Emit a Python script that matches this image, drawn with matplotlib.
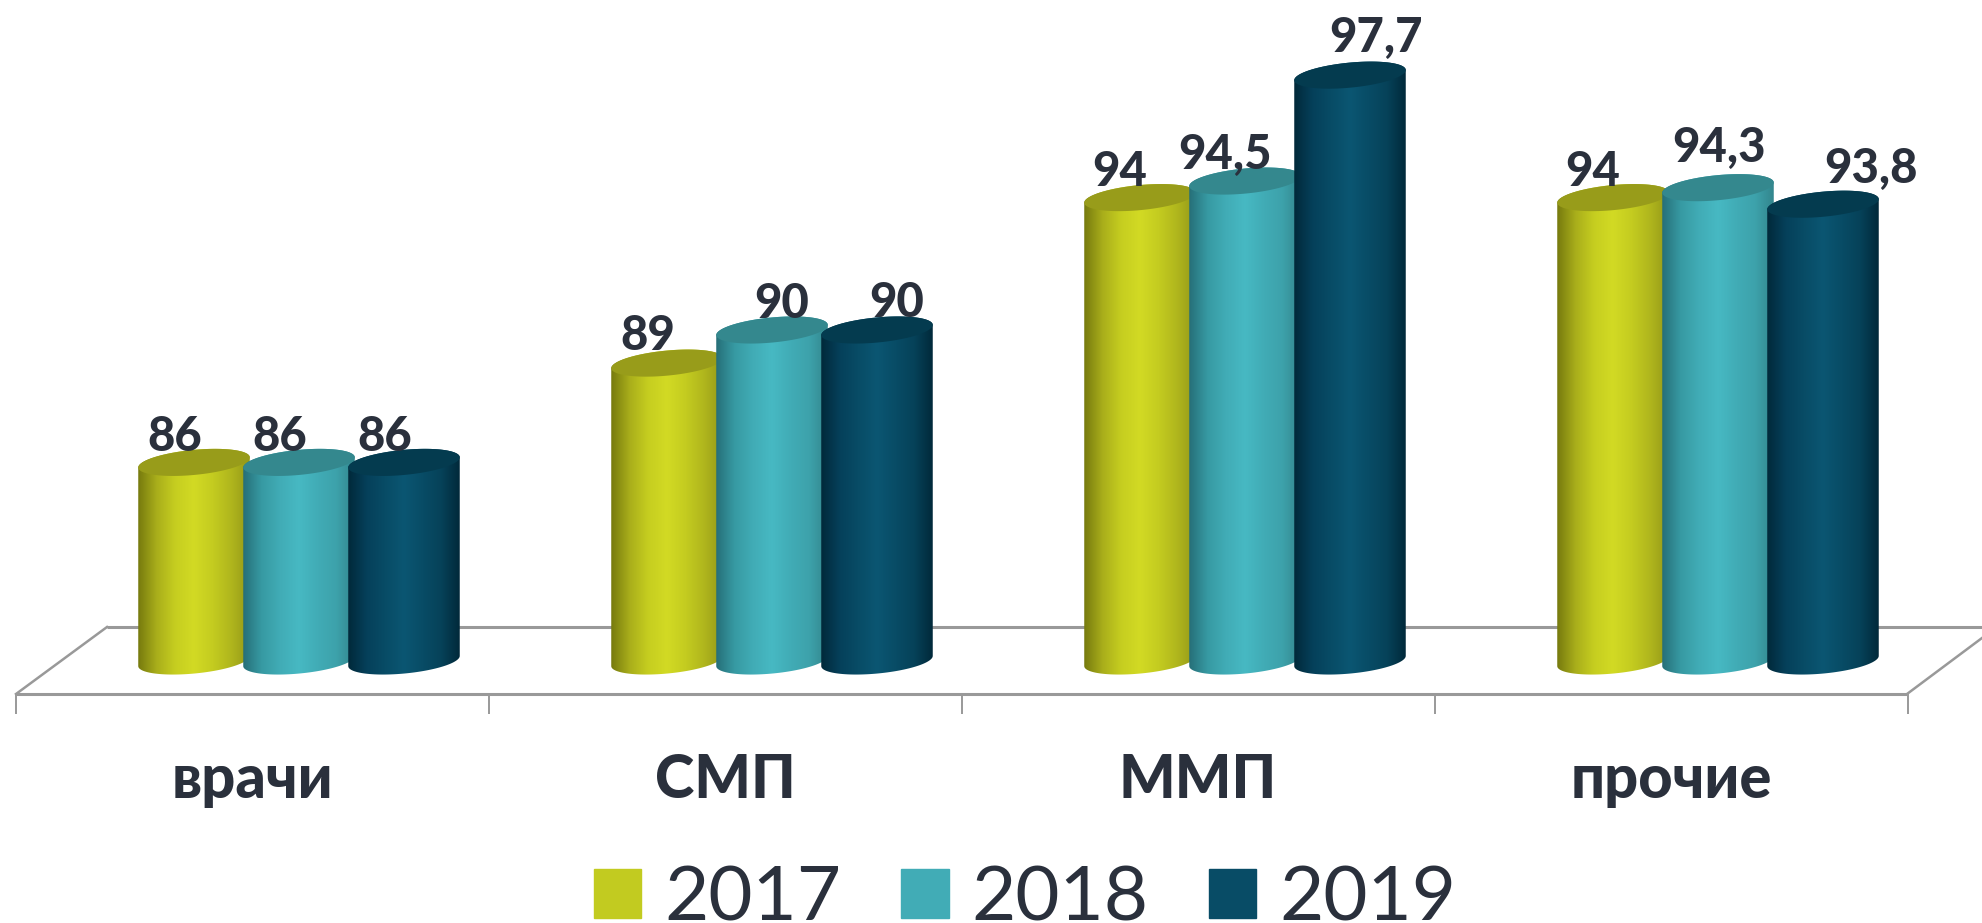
import matplotlib
matplotlib.use('Agg')
import matplotlib.pyplot as plt
import numpy as np
from matplotlib import font_manager as fm
from matplotlib.colors import LinearSegmentedColormap
from matplotlib.patches import Patch, Polygon

categories = ['врачи', 'СМП', 'ММП', 'прочие']
years = ['2017', '2018', '2019']
values_2017 = [86, 89, 94, 94]
values_2018 = [86, 90, 94.5, 94.3]
values_2019 = [86, 90, 97.7, 93.8]
series = [values_2017, values_2018, values_2019]

legend_colors = ['#C2CB20', '#41ACB6', '#084C66']
cap_colors = ['#989C1A', '#34888E', '#043B4F']
shades = [
    ['#767A0E', '#A9AE1B', '#C6CE20', '#D2DA24', '#C4CC20', '#B0B61D', '#949818'],
    ['#266F78', '#379AA3', '#41ACB6', '#47B9C3', '#41ACB6', '#3DA2AB', '#33868D'],
    ['#01293A', '#05405A', '#084C66', '#0B5672', '#084C66', '#064259', '#01293A'],
]
# label shift from the bar centre, pixels (x, y above the bar top)
label_dx = [[-19, -19, -19], [-19, 10, 20], [-20, -20, 26], [-20, 1, 48]]
label_dy = [[11, 11, 11], [13, 12, 13], [12, 12, 23], [12, 26, 21]]

W, H = 1982, 923
CAT_PX = 473.0      # pixels per category
VAL_PX = 33.1       # pixels per value unit
X0_PX = 252.0       # category 0 centre
BASE_PX = 661.0     # y pixel of the bar base
BASE_VAL = 80.0
BAR_W = 105.0
BAR_SHIFT = 47.0
CAP_A, CAP_B, CAP_TILT = 56.0, 12.5, np.radians(5.5)

available = {f.name for f in fm.fontManager.ttflist}
font = ['Lato', 'Noto Sans', 'DejaVu Sans'] if 'Lato' in available else ['Noto Sans', 'DejaVu Sans']
plt.rcParams['font.family'] = font
TEXT = '#2A303C'
GREY = '#999999'


def xpx(p):
    return (p - X0_PX) / CAT_PX


def ypx(p):
    return BASE_VAL + (BASE_PX - p) / VAL_PX


def arc(cx, cy, t):
    # tilted ellipse in pixels, y pointing up on the picture
    ex = CAP_A * np.cos(t) * np.cos(CAP_TILT) - CAP_B * np.sin(t) * np.sin(CAP_TILT)
    ey = CAP_A * np.cos(t) * np.sin(CAP_TILT) + CAP_B * np.sin(t) * np.cos(CAP_TILT)
    return cx + ex / CAT_PX, cy + ey / VAL_PX


fig = plt.figure(figsize=(W / 100, H / 100), dpi=100)
ax = fig.add_axes([0, 0, 1, 1])
ax.axis('off')

# floor of the 3d box
ax.plot([xpx(16), xpx(1907)], [ypx(694), ypx(694)], color=GREY, lw=2.2, solid_capstyle='butt')
ax.plot([xpx(107), xpx(1982)], [ypx(627), ypx(627)], color=GREY, lw=2.2, solid_capstyle='butt')
ax.plot([xpx(16), xpx(107)], [ypx(694), ypx(627)], color=GREY, lw=1.8)
ax.plot([xpx(1907), xpx(1982)], [ypx(694), ypx(638)], color=GREY, lw=1.8)
edges = np.arange(len(categories) + 1) - 0.5
ax.vlines(edges, ypx(714), ypx(694), color=GREY, lw=1.4)

t0 = np.arctan2(-CAP_B * np.sin(CAP_TILT), CAP_A * np.cos(CAP_TILT))
top_t = np.linspace(t0, t0 + np.pi, 60)
bot_t = np.linspace(t0 + np.pi, t0 + 2 * np.pi, 60)
all_t = np.linspace(0, 2 * np.pi, 120)

for s, vals in enumerate(series):
    cmap = LinearSegmentedColormap.from_list('c%d' % s, shades[s])
    grad = np.linspace(0, 1, 256).reshape(1, -1)
    for c, v in enumerate(vals):
        cx = c + (BAR_SHIFT + (s - 1) * BAR_W) / CAT_PX
        half = 56.0 / CAT_PX
        tx, ty = arc(cx, v, top_t)
        bx, by = arc(cx, BASE_VAL, bot_t)
        body = Polygon(np.r_[np.c_[tx, ty], np.c_[bx, by]], closed=True, fc='none', ec='none')
        ax.add_patch(body)
        im = ax.imshow(grad, cmap=cmap, aspect='auto', interpolation='bilinear',
                       extent=[cx - half, cx + half, BASE_VAL - 1, v + 1], zorder=2 + s)
        im.set_clip_path(body)
        ex, ey = arc(cx, v, all_t)
        ax.add_patch(Polygon(np.c_[ex, ey], closed=True, fc=cap_colors[s], ec='none', zorder=2 + s))
        ax.text(cx + label_dx[c][s] / CAT_PX, v + label_dy[c][s] / VAL_PX, '%g' % v if v == int(v) else str(v).replace('.', ','),
                ha='center', va='baseline', fontsize=34, fontweight=900, color=TEXT, zorder=10)

for c, name in enumerate(categories):
    ax.text(c, ypx(780), name, ha='center', va='center', fontsize=43, fontweight=900, color=TEXT)

ax.set_xlim(xpx(0), xpx(W))
ax.set_ylim(ypx(H), ypx(0))

handles = [Patch(color=col, label=y) for col, y in zip(legend_colors, years)]
ax.legend(handles=handles, ncol=3, frameon=False, loc='center', bbox_to_anchor=(1025 / W, 1 - 899 / H),
          fontsize=55, handlelength=0.62, handleheight=0.62, handletextpad=0.30, columnspacing=0.79,
          labelcolor=TEXT, borderpad=0, borderaxespad=0)

fig.savefig('out.png', dpi=100, facecolor='white')
